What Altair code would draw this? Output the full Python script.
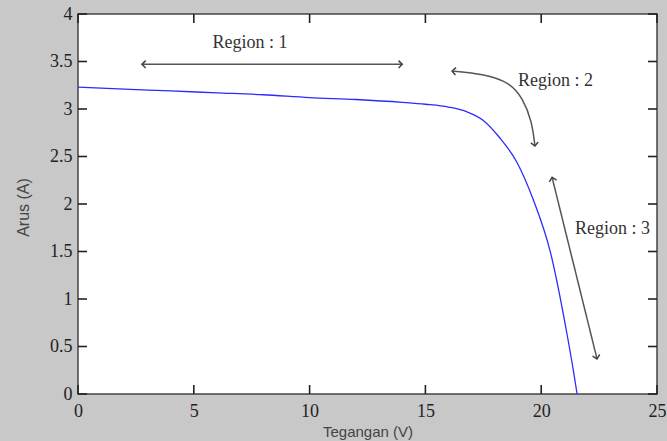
import altair as alt
import pandas as pd

# I-V curve
voltage = [0, 2, 4, 6, 8, 10, 12, 14, 15, 16, 16.8, 17.5, 18.2, 18.95, 19.65, 20.4, 21.1, 21.4, 21.55]
current = [3.23, 3.21, 3.19, 3.17, 3.15, 3.12, 3.10, 3.07, 3.05, 3.02, 2.97, 2.88, 2.70, 2.44, 2.05, 1.49, 0.65, 0.23, 0.0]

x_ticks = [0, 5, 10, 15, 20, 25]
y_ticks = [0, 0.5, 1, 1.5, 2, 2.5, 3, 3.5, 4]

# annotation arrows (data coordinates)
arrow_id = ["r1", "r1", "r2", "r2", "r2", "r2", "r2", "r2", "r3", "r3"]
arrow_order = [0, 1, 0, 1, 2, 3, 4, 5, 0, 1]
arrow_v = [2.76, 14.0, 16.15, 17.49, 18.65, 19.21, 19.6, 19.73, 20.47, 22.41]
arrow_i = [3.47, 3.47, 3.40, 3.37, 3.28, 3.11, 2.87, 2.61, 2.28, 0.37]

head_v = [2.76, 14.0, 16.15, 19.73, 20.47, 22.41]
head_i = [3.47, 3.47, 3.40, 2.61, 2.28, 0.37]
head_angle = [180, 0, 185, 83, 256, 76]

label_text = ["Region : 1", "Region : 2", "Region : 3"]
label_v = [7.43, 19.0, 21.46]
label_i = [3.70, 3.29, 1.74]
label_align = ["center", "left", "left"]

W, H = 579, 380
X_MIN, X_MAX, Y_MIN, Y_MAX = 0, 25, 0, 4
TICK_PX = 9
tx = TICK_PX * (X_MAX - X_MIN) / W
ty = TICK_PX * (Y_MAX - Y_MIN) / H

curve_df = pd.DataFrame({"V": voltage, "I": current})
arrow_df = pd.DataFrame({"id": arrow_id, "o": arrow_order, "V": arrow_v, "I": arrow_i})
head_df = pd.DataFrame({"V": head_v, "I": head_i, "ang": head_angle})
label_df = pd.DataFrame({"t": label_text, "V": label_v, "I": label_i, "al": label_align})

# inward tick marks on all four sides of the box
ytick_rows = []
for v in y_ticks:
    ytick_rows.append({"a": X_MIN, "b": X_MIN + tx, "I": v})
    ytick_rows.append({"a": X_MAX - tx, "b": X_MAX, "I": v})
xtick_rows = []
for v in x_ticks:
    xtick_rows.append({"a": Y_MIN, "b": Y_MIN + ty, "V": v})
    xtick_rows.append({"a": Y_MAX - ty, "b": Y_MAX, "V": v})
yt_df = pd.DataFrame(ytick_rows)
xt_df = pd.DataFrame(xtick_rows)

xs = alt.Scale(domain=[X_MIN, X_MAX], nice=False)
ys = alt.Scale(domain=[Y_MIN, Y_MAX], nice=False)

x_axis = alt.Axis(values=x_ticks, title="Tegangan (V)", grid=False, tickSize=0, domain=False,
                  format="~g",
                  labelFont="Liberation Serif", labelFontSize=18, labelColor="#222",
                  labelPadding=8, labelFlush=False,
                  titleFont="Liberation Sans", titleFontSize=15, titleFontWeight="normal",
                  titleColor="#444", titleY=37, titleBaseline="middle")
y_axis = alt.Axis(values=y_ticks, title="Arus (A)", grid=False, tickSize=0, domain=False,
                  format="~g",
                  labelFont="Liberation Serif", labelFontSize=18, labelColor="#222",
                  labelPadding=6, labelFlush=False,
                  titleFont="Liberation Sans", titleFontSize=16, titleFontWeight="normal",
                  titleColor="#444", titleX=-55, titleY=193, titleBaseline="middle")

curve = alt.Chart(curve_df).mark_line(color="#2b2bff", strokeWidth=1.3, interpolate="monotone").encode(
    x=alt.X("V:Q", scale=xs, axis=x_axis),
    y=alt.Y("I:Q", scale=ys, axis=y_axis),
)

y_tick_marks = alt.Chart(yt_df).mark_rule(color="#222", strokeWidth=1.6).encode(
    x=alt.X("a:Q", scale=xs), x2="b:Q", y=alt.Y("I:Q", scale=ys))
x_tick_marks = alt.Chart(xt_df).mark_rule(color="#222", strokeWidth=1.6).encode(
    y=alt.Y("a:Q", scale=ys), y2="b:Q", x=alt.X("V:Q", scale=xs))

arrows = alt.Chart(arrow_df).mark_line(color="#555", strokeWidth=1.5, interpolate="basis").encode(
    x=alt.X("V:Q", scale=xs), y=alt.Y("I:Q", scale=ys), detail="id:N", order="o:Q")

heads = alt.Chart(head_df).mark_point(
    shape="M-1,-1L0,0L-1,1", filled=False, color="#444", strokeWidth=1.5, size=55, opacity=1
).encode(x=alt.X("V:Q", scale=xs), y=alt.Y("I:Q", scale=ys), angle=alt.Angle("ang:Q", scale=None))

labels_c = alt.Chart(label_df[label_df.al == "center"]).mark_text(
    font="Liberation Serif", fontSize=18, color="#333", align="center", baseline="middle"
).encode(x=alt.X("V:Q", scale=xs), y=alt.Y("I:Q", scale=ys), text="t:N")
labels_l = alt.Chart(label_df[label_df.al == "left"]).mark_text(
    font="Liberation Serif", fontSize=18, color="#333", align="left", baseline="middle"
).encode(x=alt.X("V:Q", scale=xs), y=alt.Y("I:Q", scale=ys), text="t:N")

chart = alt.layer(
    curve, y_tick_marks, x_tick_marks, arrows, heads, labels_c, labels_l
).properties(
    width=W, height=H,
    autosize=alt.AutoSizeParams(type="none"),
    padding={"left": 78, "top": 14, "right": 10, "bottom": 47},
    background="#c8c8c8",
).configure_view(
    fill="white", stroke="#444", strokeWidth=1.5
)

chart.save("out.html", embed_options={"renderer": "svg", "actions": False})
